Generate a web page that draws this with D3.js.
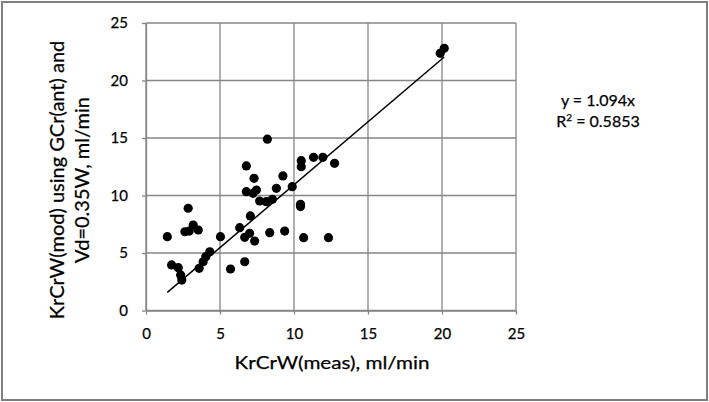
<!DOCTYPE html>
<html>
<head>
<meta charset="utf-8">
<script src="https://cdn.jsdelivr.net/npm/d3@7"></script>
<style>
    body { margin: 0; background: #fff; }
    text { font-family: Lato, "Open Sans", sans-serif; fill: #000; stroke: #000; stroke-width: 0.25px; }
    .grid line { stroke: #868686; stroke-width: 1.3; }
    .axis path, .axis line { stroke: #868686; stroke-width: 1.3; }
    .axis text { font-size: 15px; }
</style>
</head>
<body>
<div id="chart"></div>
<script>

// measured KrCrW vs modelled KrCrW (ml/min)
const measured = [1.44, 1.73, 2.18, 2.34, 2.42, 2.85, 2.63, 2.92, 3.19, 3.53,
    3.59, 3.86, 4.04, 4.31, 5.03, 5.71, 6.33, 6.67, 6.67, 7.0,
    7.34, 7.05, 6.78, 6.78, 7.23, 7.46, 7.30, 7.68, 8.13, 8.54,
    8.81, 9.25, 9.88, 8.2, 8.36, 9.37, 10.44, 10.44, 10.49, 10.49,
    10.65, 11.32, 11.95, 12.74, 12.33, 19.88, 20.15];
const modelled = [6.42, 3.96, 3.72, 3.09, 2.65, 8.89, 6.85, 6.91, 7.43, 7.0,
    3.67, 4.24, 4.68, 5.11, 6.42, 3.61, 7.2, 4.24, 6.36, 6.71,
    6.04, 8.22, 12.57, 10.33, 10.19, 10.48, 11.49, 9.52, 9.46, 9.67,
    10.62, 11.7, 10.77, 14.9, 6.77, 6.91, 9.23, 9.04, 13.03, 12.5,
    6.33, 13.32, 13.32, 12.8, 6.33, 22.36, 22.8];
const slope = 1.094;
const r2 = "0.5853";
const tickValues = [0, 5, 10, 15, 20, 25];

let data = measured.map((m, i) => ({x: m, y: modelled[i]}));

let width = 709, height = 402;

let svg = d3.select("#chart").append("svg")
    .attr("width", width)
    .attr("height", height);

// outer chart border
svg.append("rect")
    .attr("x", 2).attr("y", 2)
    .attr("width", 705).attr("height", 398)
    .attr("fill", "#fff")
    .attr("stroke", "#7f7f7f")
    .attr("stroke-width", 2);

let x = d3.scaleLinear().domain([0, 25]).range([146, 516]);
let y = d3.scaleLinear().domain([0, 25]).range([310.5, 23]);

// gridlines
let grid = svg.append("g").attr("class", "grid");
grid.selectAll(".vline")
    .data(tickValues)
    .enter().append("line")
    .attr("x1", d => x(d)).attr("x2", d => x(d))
    .attr("y1", y(25)).attr("y2", y(0));
grid.selectAll(".hline")
    .data(tickValues)
    .enter().append("line")
    .attr("x1", x(0)).attr("x2", x(25))
    .attr("y1", d => y(d)).attr("y2", d => y(d));

let xAxis = d3.axisBottom(x).tickValues(tickValues).tickSize(4).tickPadding(14).tickSizeOuter(0);
let yAxis = d3.axisLeft(y).tickValues(tickValues).tickSize(4).tickPadding(14).tickSizeOuter(0);

svg.append("g")
    .attr("class", "axis")
    .attr("transform", `translate(0, ${y(0)})`)
    .call(xAxis);

svg.append("g")
    .attr("class", "axis")
    .attr("transform", `translate(${x(0)}, 0)`)
    .call(yAxis);

// trendline through origin
let xMin = d3.min(measured), xMax = d3.max(measured);
svg.append("line")
    .attr("x1", x(xMin)).attr("y1", y(slope * xMin))
    .attr("x2", x(xMax)).attr("y2", y(slope * xMax))
    .attr("stroke", "#000")
    .attr("stroke-width", 1.5);

svg.append("g")
    .selectAll("circle")
    .data(data)
    .enter().append("circle")
    .attr("cx", d => x(d.x))
    .attr("cy", d => y(d.y))
    .attr("r", 4.6)
    .attr("fill", "#000");

// axis titles
svg.append("text")
    .attr("x", 332).attr("y", 369)
    .attr("text-anchor", "middle")
    .attr("textLength", 195)
    .attr("lengthAdjust", "spacingAndGlyphs")
    .style("font-size", "18px")
    .text("KrCrW(meas), ml/min");

let yTitle = svg.append("text")
    .attr("transform", "translate(57, 180) rotate(-90)")
    .attr("text-anchor", "middle")
    .style("font-size", "20px");
yTitle.append("tspan").attr("x", 0).attr("dy", "0.35em").text("KrCrW(mod) using GCr(ant) and");
yTitle.append("tspan").attr("x", 0).attr("dy", 25).text("Vd=0.35W, ml/min");

// trendline equation
svg.append("text")
    .attr("x", 598).attr("y", 106)
    .attr("text-anchor", "middle")
    .style("font-size", "16px")
    .text(`y = ${slope}x`);
let r2Text = svg.append("text")
    .attr("x", 598).attr("y", 127)
    .attr("text-anchor", "middle")
    .style("font-size", "16px");
r2Text.append("tspan").text("R");
r2Text.append("tspan").attr("dy", -6).style("font-size", "10px").text("2");
r2Text.append("tspan").attr("dy", 6).text(` = ${r2}`);

</script>
</body>
</html>
